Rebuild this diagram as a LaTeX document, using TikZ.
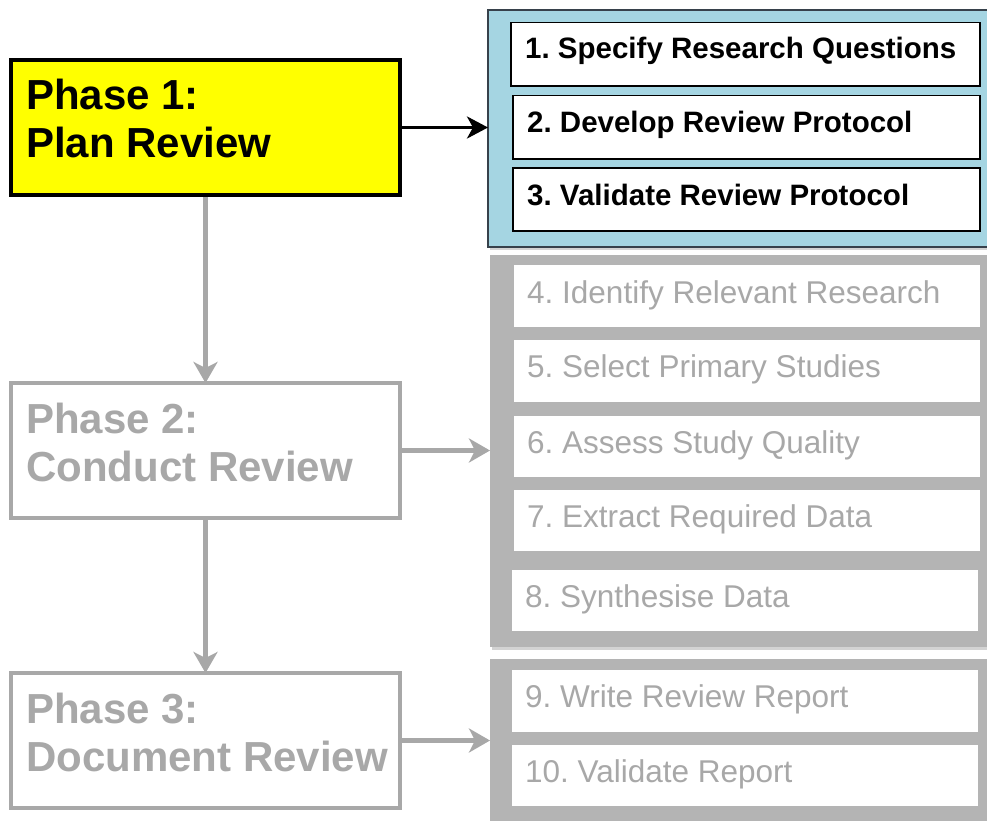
\documentclass[tikz,border=0pt]{standalone}
\usepackage{fontspec}
\setmainfont{Liberation Sans}
\usetikzlibrary{arrows.meta,shadows}
\definecolor{phaseyellow}{RGB}{255,255,0}
\definecolor{groupblue}{RGB}{165,213,226}
\definecolor{fadegray}{RGB}{168,168,168}
\definecolor{groupgray}{RGB}{180,180,180}
\definecolor{groupedge}{RGB}{55,65,75}
\frenchspacing
\begin{document}
\frenchspacing
\begin{tikzpicture}[x=1pt,y=-1pt,
  box/.style={rectangle, inner sep=0pt, outer sep=0pt, anchor=north west},
  phasebox/.style={box, line width=4pt, minimum width=389pt, minimum height=135pt},
  phasetext/.style={anchor=base west, inner sep=0pt, font=\fontsize{42}{48}\selectfont\bfseries},
  groupbox/.style={box, drop shadow={shadow xshift=1.5pt, shadow yshift=-2.5pt, opacity=0.35}},
  stepbox/.style={box, fill=white},
  boldstep/.style={anchor=base west, inner sep=0pt, font=\fontsize{29.5}{34}\selectfont\bfseries, text=black},
  plainstep/.style={anchor=base west, inner sep=0pt, font=\fontsize{31.5}{36}\selectfont, text=fadegray},
  blackarrow/.style={draw=black, line width=3.4pt, -{Stealth[length=21pt, width=22pt, inset=6pt]}},
  grayarrow/.style={draw=fadegray, line width=4.5pt, -{Stealth[length=21pt, width=24pt, inset=6pt]}}
]
\useasboundingbox (0,0) rectangle (987,821);

% groups
\node[groupbox, fill=groupblue, draw=groupedge, line width=1.5pt, minimum width=507pt, minimum height=237pt] (blue) at (488,10) {};
\node[groupbox, fill=groupgray, minimum width=505pt, minimum height=392pt] (gray1) at (490,255) {};
\node[groupbox, fill=groupgray, minimum width=505pt, minimum height=180pt] (gray2) at (490,659) {};

% blue steps
\node[stepbox, draw=black, line width=1.2pt, minimum width=469pt, minimum height=63.5pt] (b1) at (511,22.5) {};
\node[stepbox, draw=black, line width=1.2pt, minimum width=467pt, minimum height=63.5pt] (b2) at (513,95.5) {};
\node[stepbox, draw=black, line width=1.2pt, minimum width=467pt, minimum height=63pt] (b3) at (513,168) {};
\node[boldstep] (t1) at ([xshift=14pt, yshift=-36pt]b1.north west) {1. Specify Research Questions};
\node[boldstep] (t2) at ([xshift=14pt, yshift=-37pt]b2.north west) {2. Develop Review Protocol};
\node[boldstep] (t3) at ([xshift=14pt, yshift=-37pt]b3.north west) {3. Validate Review Protocol};

% gray steps
\node[stepbox, minimum width=466pt, minimum height=62pt] (b4) at (514,265) {};
\node[stepbox, minimum width=466pt, minimum height=62pt] (b5) at (514,340) {};
\node[stepbox, minimum width=466pt, minimum height=61pt] (b6) at (514,416) {};
\node[stepbox, minimum width=466pt, minimum height=61pt] (b7) at (514,490) {};
\node[stepbox, minimum width=466pt, minimum height=61pt] (b8) at (512,570) {};
\node[stepbox, minimum width=466pt, minimum height=62pt] (b9) at (512,670) {};
\node[stepbox, minimum width=466pt, minimum height=61pt] (b10) at (512,745) {};
\node[plainstep] (t4) at ([xshift=13pt, yshift=-38pt]b4.north west) {4. Identify Relevant Research};
\node[plainstep] (t5) at ([xshift=13pt, yshift=-37pt]b5.north west) {5. Select Primary Studies};
\node[plainstep] (t6) at ([xshift=13pt, yshift=-37pt]b6.north west) {6. Assess Study Quality};
\node[plainstep] (t7) at ([xshift=13pt, yshift=-37pt]b7.north west) {7. Extract Required Data};
\node[plainstep] (t8) at ([xshift=13pt, yshift=-37pt]b8.north west) {8. Synthesise Data};
\node[plainstep] (t9) at ([xshift=13pt, yshift=-37pt]b9.north west) {9. Write Review Report};
\node[plainstep] (t10) at ([xshift=13pt, yshift=-37pt]b10.north west) {10. Validate Report};

% phases
\node[phasebox, fill=phaseyellow, draw=black] (p1) at (11,60) {};
\node[phasebox, fill=white, draw=fadegray] (p2) at (11,383) {};
\node[phasebox, fill=white, draw=fadegray] (p3) at (11,673) {};
\node[phasetext, text=black] (p1a) at ([xshift=15pt, yshift=-50pt]p1.north west) {Phase 1:};
\node[phasetext, text=black] (p1b) at ([xshift=15pt, yshift=-98pt]p1.north west) {Plan Review};
\node[phasetext, text=fadegray] (p2a) at ([xshift=15pt, yshift=-50pt]p2.north west) {Phase 2:};
\node[phasetext, text=fadegray] (p2b) at ([xshift=15pt, yshift=-98pt]p2.north west) {Conduct Review};
\node[phasetext, text=fadegray] (p3a) at ([xshift=15pt, yshift=-50pt]p3.north west) {Phase 3:};
\node[phasetext, text=fadegray] (p3b) at ([xshift=15pt, yshift=-98pt]p3.north west) {Document Review};

% connectors
\draw[blackarrow] (p1.east) -- (p1.east -| blue.west);
\draw[grayarrow] (p2.east) -- (p2.east -| gray1.west);
\draw[grayarrow] (p3.east) -- (p3.east -| gray2.west);
\draw[grayarrow, shorten <=2pt] (p1.south) -- (p2.north);
\draw[grayarrow, shorten <=2pt] (p2.south) -- (p3.north);
\end{tikzpicture}
\end{document}
